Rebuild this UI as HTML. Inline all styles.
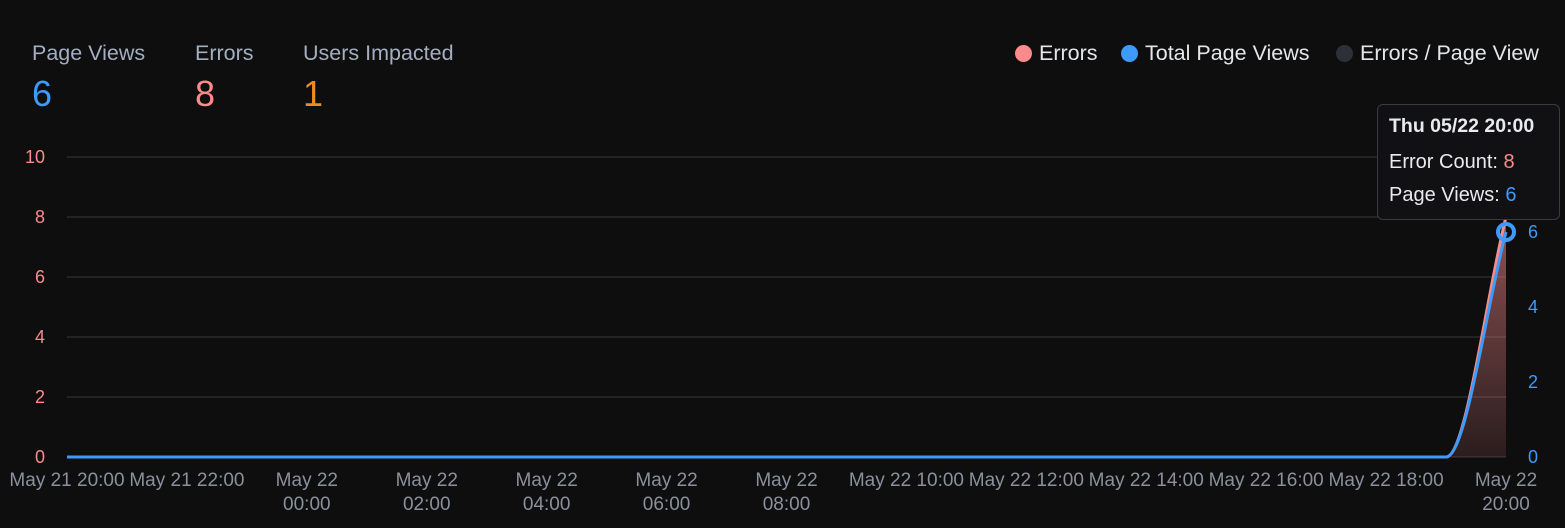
<!DOCTYPE html>
<html><head><meta charset="utf-8"><style>
body{margin:0;background:#0e0e0f;width:1565px;height:528px;overflow:hidden;font-family:"Liberation Sans",sans-serif;}
.stat{position:absolute;top:41px}
.stat .l{font-size:21.5px;color:#a3aec2}
.stat .v{font-size:36px;margin-top:7px}
.leg{position:absolute;top:41px;font-size:21.5px;color:#e4e6ea;display:flex;align-items:center;white-space:nowrap}
.leg i{display:inline-block;width:17px;height:17px;border-radius:50%;margin-right:7px}
</style></head><body>
<div class="stat" style="left:32px"><div class="l">Page Views</div><div class="v" style="color:#3d9bfa">6</div></div>
<div class="stat" style="left:195px"><div class="l">Errors</div><div class="v" style="color:#fb8a8a">8</div></div>
<div class="stat" style="left:303px"><div class="l">Users Impacted</div><div class="v" style="color:#f08a24">1</div></div>
<div class="leg" style="left:1015px"><i style="background:#fb8a8a"></i>Errors</div>
<div class="leg" style="left:1121px"><i style="background:#3d9bfa"></i>Total Page Views</div>
<div class="leg" style="left:1336px"><i style="background:#2e3038"></i>Errors / Page View</div>
<svg id="chart" width="1565" height="528" style="position:absolute;left:0;top:0">
<defs><linearGradient id="eg" x1="0" y1="0" x2="0" y2="1"><stop offset="0" stop-color="#fb8a8a" stop-opacity="0.55"/><stop offset="1" stop-color="#fb8a8a" stop-opacity="0.12"/></linearGradient></defs>
</svg>
<div style="position:absolute;left:1377px;top:104px;width:183px;height:116px;background:#111113;border:1px solid #3a3b40;border-radius:6px;box-sizing:border-box;padding:10px 11px;color:#e9eaee;white-space:nowrap">
<div style="font-size:19.5px;font-weight:bold">Thu 05/22 20:00</div>
<div style="font-size:20px;margin-top:13px">Error Count: <span style="color:#fb8a8a">8</span></div>
<div style="font-size:20px;margin-top:10px">Page Views: <span style="color:#3d9bfa">6</span></div>
</div>
<script>
const hours=["May 21 20:00","May 21 21:00","May 21 22:00","May 21 23:00","May 22 00:00","May 22 01:00","May 22 02:00","May 22 03:00","May 22 04:00","May 22 05:00","May 22 06:00","May 22 07:00","May 22 08:00","May 22 09:00","May 22 10:00","May 22 11:00","May 22 12:00","May 22 13:00","May 22 14:00","May 22 15:00","May 22 16:00","May 22 17:00","May 22 18:00","May 22 19:00","May 22 20:00"];
const errors=[0,0,0,0,0,0,0,0,0,0,0,0,0,0,0,0,0,0,0,0,0,0,0,0,8];
const pageViews=[0,0,0,0,0,0,0,0,0,0,0,0,0,0,0,0,0,0,0,0,0,0,0,0,6];
const leftTicks=[0,2,4,6,8,10];
const rightTicks=[0,2,4,6];
const xLabels=[["May 21 20:00"],["May 21 22:00"],["May 22","00:00"],["May 22","02:00"],["May 22","04:00"],["May 22","06:00"],["May 22","08:00"],["May 22 10:00"],["May 22 12:00"],["May 22 14:00"],["May 22 16:00"],["May 22 18:00"],["May 22","20:00"]];
const X0=67,X1=1506,Y0=457,Y1=157;
const x=i=>X0+(X1-X0)*i/(hours.length-1);
const yL=v=>Y0-(Y0-Y1)*v/10;
const yR=v=>Y0-(Y0-Y1)*v/8;
const svg=document.getElementById('chart');
const NS='http://www.w3.org/2000/svg';
function mk(t,a){const e=document.createElementNS(NS,t);for(const k in a)e.setAttribute(k,a[k]);svg.appendChild(e);return e;}
leftTicks.forEach(v=>{
 const g=mk('line',{x1:X0,x2:X1,y1:yL(v),y2:yL(v),stroke:'#2a2a2d','stroke-width':1.5});
 
 
 const t=mk('text',{x:45,y:yL(v)+6,'text-anchor':'end',fill:'#fb8a8a','font-size':18,'font-family':'Liberation Sans'});
 t.textContent=v;
 
 
});
rightTicks.forEach(v=>{
 const t=mk('text',{x:1528,y:yR(v)+6,fill:'#3d9bfa','font-size':18,'font-family':'Liberation Sans'});
 t.textContent=v;
 
 
});
xLabels.forEach((l,i)=>{
 const t=mk('text',{x:x(i*2),y:486,'text-anchor':'middle',fill:'#8a909c','font-size':19,'font-family':'Liberation Sans'});
 l.forEach((s,j)=>{const ts=document.createElementNS(NS,'tspan');ts.setAttribute('x',x(i*2));ts.setAttribute('dy',j?24:0);ts.textContent=s;t.appendChild(ts);});
 
 
});
function path(vals,yf){
 const p=vals.map((v,i)=>[x(i),yf(v)]);const n=p.length;
 const s=[];for(let i=0;i<n-1;i++)s.push((p[i+1][1]-p[i][1])/(p[i+1][0]-p[i][0]));
 const t=p.map((_,i)=>{if(i==0)return s[0];if(i==n-1)return s[n-2];const a=s[i-1],b=s[i];if(a*b<=0)return 0;return (a+b)/2;});
 let d='M'+p[0][0]+','+p[0][1];
 for(let i=0;i<n-1;i++){const dx=(p[i+1][0]-p[i][0])/3;d+=' C'+(p[i][0]+dx)+','+(p[i][1]+t[i]*dx)+' '+(p[i+1][0]-dx)+','+(p[i+1][1]-t[i+1]*dx)+' '+p[i+1][0]+','+p[i+1][1];}
 return d;
}
const ed=path(errors,yL);
const area=mk('path',{d:ed+' L'+X1+','+Y0+' L'+X0+','+Y0+' Z',fill:'url(#eg)'});


const el=mk('path',{d:ed,fill:'none',stroke:'#fb8a8a','stroke-width':3});


const pl=mk('path',{d:path(pageViews,yR),fill:'none',stroke:'#3d9bfa','stroke-width':3});


const last=pageViews.length-1;
const dot=mk('circle',{cx:x(last),cy:yR(pageViews[last]),r:8,fill:'none',stroke:'#3d9bfa','stroke-width':4});


</script>
</body></html>
